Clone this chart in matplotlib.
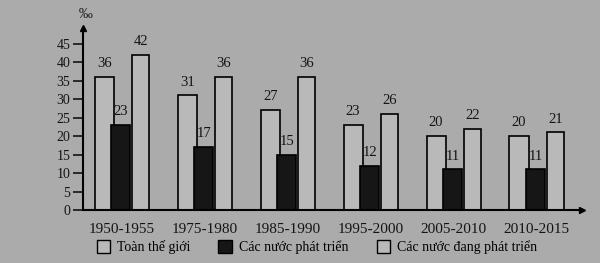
import numpy as np
import matplotlib.pyplot as plt
from matplotlib.patches import Patch

periods = ['1950-1955', '1975-1980', '1985-1990', '1995-2000', '2005-2010', '2010-2015']
world = [36, 31, 27, 23, 20, 20]
developed = [23, 17, 15, 12, 11, 11]
developing = [42, 36, 36, 26, 22, 21]
names = ['Toàn thế giới', 'Các nước phát triển', 'Các nước đang phát triển']

bg = '#ababab'
light = '#b9b9b9'
ink = '#141414'
plt.rcParams['font.family'] = ['Liberation Serif', 'DejaVu Serif']

fig = plt.figure(figsize=(6, 2.63), dpi=100, facecolor=bg)
ax = fig.add_axes([0.138, 0.2015, 0.832, 0.692])
ax.set_facecolor(bg)

x = np.arange(len(periods))
w = 0.23
b1 = ax.bar(x - 0.21, world, w, color=light, edgecolor='black', linewidth=1.2)
b2 = ax.bar(x - 0.01, developed, w, color='#161616', edgecolor='black', linewidth=1.2)
b3 = ax.bar(x + 0.23, developing, w * 0.9, color=light, edgecolor='black', linewidth=1.2)

for bars, vals in [(b1, world), (b2, developed), (b3, developing)]:
    for r, v in zip(bars, vals):
        ax.text(r.get_x() + r.get_width() / 2, v + 1.8, str(v), ha='center', va='bottom',
                fontsize=10.5, color=ink)

ax.set_xlim(-0.47, 5.55)
ax.set_ylim(0, 49.2)
ax.set_yticks(range(0, 50, 5))
ax.set_xticks(x)
ax.set_xticklabels(periods, fontsize=11, color=ink)
ax.tick_params(axis='x', length=0, pad=9)
ax.tick_params(axis='y', length=7, width=1.2, labelsize=10, pad=2, colors=ink)
for s in ['top', 'right']:
    ax.spines[s].set_visible(False)
for s in ['left', 'bottom']:
    ax.spines[s].set_linewidth(1.5)
ax.plot(1, 0, '>k', ms=5, transform=ax.transAxes, clip_on=False)
ax.plot(0, 1, '^k', ms=5, transform=ax.transAxes, clip_on=False)
fig.text(0.143, 0.945, '‰', fontsize=10, ha='center', va='center', color=ink)

handles = [Patch(facecolor=light, edgecolor='black'),
           Patch(facecolor='#161616', edgecolor='black'),
           Patch(facecolor=light, edgecolor='black')]
fig.legend(handles, names, loc='center left', bbox_to_anchor=(0.14, 0.06), ncol=3,
           frameon=False, fontsize=10, handlelength=1.0, handleheight=1.0,
           columnspacing=2.0, handletextpad=0.5)

fig.savefig('out.png', dpi=100, facecolor=bg)
